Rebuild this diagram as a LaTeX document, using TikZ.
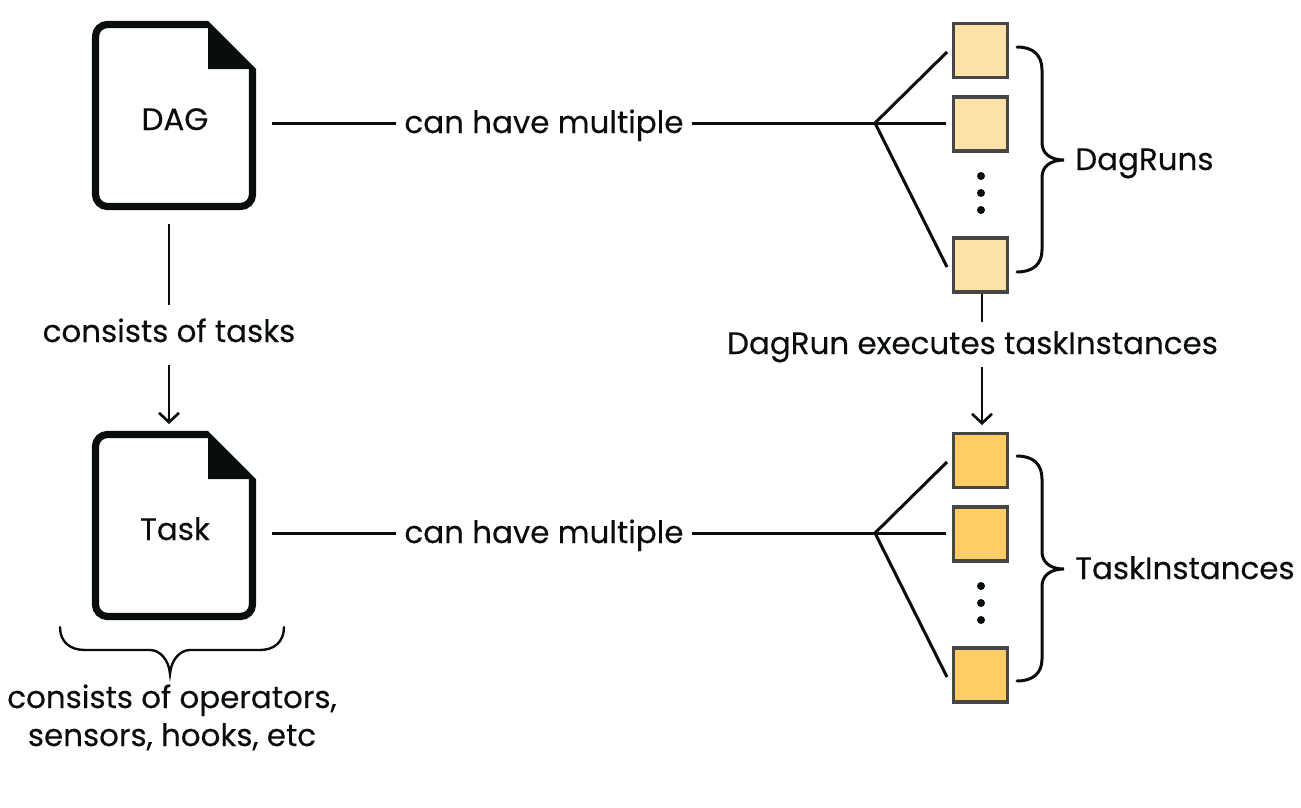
\documentclass[tikz,border=0pt]{standalone}
\usepackage{fontspec}
\setmainfont[FakeBold=0.25]{Poppins}
\usetikzlibrary{calc,arrows.meta}
\definecolor{runfill}{HTML}{FBE2A8}
\definecolor{instfill}{HTML}{FFCD66}
\definecolor{boxline}{HTML}{464646}
\definecolor{inkblack}{HTML}{0A0D0D}
\tikzset{
    link/.style={line width=2.25pt, draw=inkblack},
    thinlink/.style={line width=2pt, draw=inkblack},
    bracelink/.style={line width=1.8pt, draw=inkblack, line cap=round},
    doctext/.style={font=\fontsize{23.2}{28}\selectfont, text=inkblack, inner sep=0pt, anchor=base},
    rowbox/.style={draw=boxline, line width=2.4pt, minimum size=40.5pt, inner sep=0pt},
    chevron/.tip={Straight Barb[length=7pt,width=15pt,line width=2pt]}
}
\newcommand*{\DocFile}[3]{% #1 = name, #2 = y offset, #3 = text
\draw [line width=5.4pt, draw=inkblack, rounded corners=9pt]
(208,#2+24.5) -- (95.5,#2+24.5) -- (95.5,#2+206.5) -- (252.5,#2+206.5) -- (252.5,#2+69);
\fill [inkblack] (208,#2+21) -- (256,#2+69) -- (208,#2+69) -- cycle;
\node [doctext] (#1) at (175,#2+130) {#3};
}
\newcommand*{\RowBoxes}[3]{% #1 = name, #2 = y offset, #3 = fill
\foreach \n/\y in {1/50.5,2/124,3/265} {
\node [rowbox, fill=#3] (#1\n) at (980.5,#2+\y) {};
}%
\foreach \y in {176,193,210} {
\fill [inkblack] (981,#2+\y) circle (4);
}%
}
\newcommand*{\FanLinks}[2]{% #1 = name of boxes, #2 = y offset
\coordinate (#1hub) at (875,#2+123);
\draw [link] (#1hub) -- (947,#2+52);
\draw [link] (#1hub) -- (946,#2+123);
\draw [link] (#1hub) -- (947,#2+267);
}
\newcommand*{\SideBrace}[1]{% #1 = y offset
\draw [link, line cap=round] (1017,#1+47) .. controls (1033,#1+47) and (1042,#1+55) .. (1042,#1+70)
-- (1042,#1+143) .. controls (1042,#1+153) and (1050,#1+160) .. (1064,#1+160)
.. controls (1050,#1+160) and (1042,#1+167) .. (1042,#1+177)
-- (1042,#1+250) .. controls (1042,#1+264) and (1033,#1+272) .. (1017,#1+272);
}
\begin{document}
\begin{tikzpicture}[x=0.75pt,y=-0.75pt]
    \useasboundingbox (0,0) rectangle (1301,807);

    \DocFile{dag}{0}{DAG}
    \DocFile{task}{410}{Task}
    \RowBoxes{run}{0}{runfill}
    \RowBoxes{inst}{410}{instfill}
    \FanLinks{run}{0}
    \FanLinks{inst}{410}
    \SideBrace{0}
    \SideBrace{409}

    \node [doctext] (runmany) at (544,133) {can have multiple};
    \node [doctext] (instmany) at (544,543) {can have multiple};
    \node [doctext] (dagtasks) at (169,342) {consists of tasks};
    \node [doctext] (runexec) at (972.5,354) {DagRun executes taskInstances};
    \node [doctext, anchor=base west] (runs) at (1075,170) {DagRuns};
    \node [doctext, anchor=base west] (insts) at (1075,579) {TaskInstances};
    \node [doctext] (opsone) at (172,708) {consists of operators,};
    \node [doctext] (opstwo) at (172,746) {sensors, hooks, etc};

    \coordinate (dagright) at (272,123);
    \coordinate (taskright) at (272,533);
    \coordinate (dagbelow) at (169,224);
    \coordinate (taskabove) at (169,424);
    \coordinate (instabove) at (982,425);
    \draw [link] (dagright) -- ($(runmany.west |- dagright)+(-8,0)$);
    \draw [link] ($(runmany.east |- dagright)+(8,0)$) -- (runhub);
    \draw [link] (taskright) -- ($(instmany.west |- taskright)+(-8,0)$);
    \draw [link] ($(instmany.east |- taskright)+(8,0)$) -- (insthub);
    \draw [thinlink] (dagbelow) -- (169,305);
    \draw [thinlink, -chevron] (169,365) -- (taskabove);
    \draw [thinlink] (982,294) -- (982,322);
    \draw [thinlink, -chevron] (982,367) -- (instabove);

    \draw [bracelink] (60,627) .. controls (60,642) and (70,650) .. (85,650)
    -- (150,650) .. controls (160,650) and (169,660) .. (170,674)
    .. controls (171,660) and (180,650) .. (190,650)
    -- (260,650) .. controls (274,650) and (284,642) .. (284,627);
\end{tikzpicture}
\end{document}
